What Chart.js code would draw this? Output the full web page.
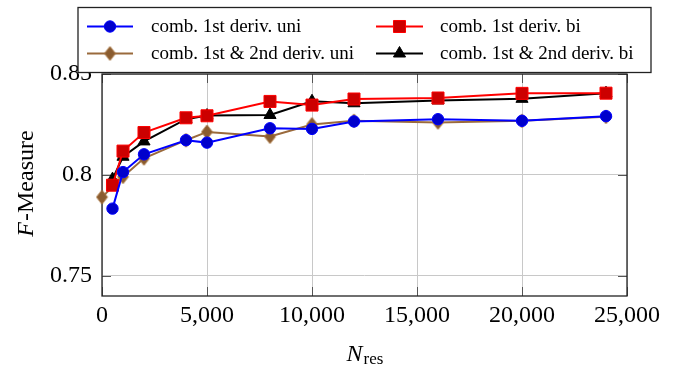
<!DOCTYPE html>
<html>
<head>
<meta charset="utf-8">
<script src="https://cdn.jsdelivr.net/npm/chart.js@4/dist/chart.umd.min.js"></script>
<style>
  html, body { margin: 0; padding: 0; background: #fff; }
  #wrap { width: 684px; height: 365px; position: relative; }
</style>
</head>
<body>
<div id="wrap"><canvas id="c" width="684" height="365"></canvas></div>
<script>
// ---- data ----
const nUni1  = [500, 1000, 2000, 4000, 5000, 8000, 10000, 12000, 16000, 20000, 24000];
const fUni1  = [0.7833, 0.8014, 0.8102, 0.8172, 0.8160, 0.8231, 0.8228, 0.8265, 0.8276, 0.8268, 0.8291];
const nBi1   = [500, 1000, 2000, 4000, 5000, 8000, 10000, 12000, 16000, 20000, 24000];
const fBi1   = [0.7949, 0.8118, 0.8210, 0.8283, 0.8293, 0.8364, 0.8346, 0.8376, 0.8381, 0.8404, 0.8405];
const nUni12 = [0, 1000, 2000, 4000, 5000, 8000, 10000, 12000, 16000, 20000, 24000];
const fUni12 = [0.7890, 0.7991, 0.8082, 0.8172, 0.8213, 0.8190, 0.8250, 0.8268, 0.8260, 0.8268, 0.8288];
const nBi12  = [500, 1000, 2000, 4000, 5000, 8000, 10000, 12000, 16000, 20000, 24000];
const fBi12  = [0.7979, 0.8090, 0.8166, 0.8276, 0.8294, 0.8297, 0.8365, 0.8355, 0.8369, 0.8377, 0.8405];

const seriesNames = [
  'comb. 1st deriv. uni',
  'comb. 1st deriv. bi',
  'comb. 1st & 2nd deriv. uni',
  'comb. 1st & 2nd deriv. bi'
];
const xTicks = [0, 5000, 10000, 15000, 20000, 25000];
const yTicks = [0.75, 0.8, 0.85];
const xTitleMain = 'N', xTitleSub = 'res';
const yTitleItalic = 'F', yTitleRest = '-Measure';

const pts = (xs, ys) => xs.map((x, i) => ({ x: x, y: ys[i] }));
const SERIF = "'Liberation Serif', 'Times New Roman', serif";

// diamond marker glyph (taller than wide, like pgfplots 'diamond*')
function makeDiamond(w, h, fill, stroke) {
  const c = document.createElement('canvas');
  c.width = w + 2; c.height = h + 2;
  const g = c.getContext('2d');
  const cx = c.width / 2, cy = c.height / 2;
  g.beginPath();
  g.moveTo(cx, cy - h / 2); g.lineTo(cx + w / 2, cy); g.lineTo(cx, cy + h / 2); g.lineTo(cx - w / 2, cy);
  g.closePath();
  g.fillStyle = fill; g.fill();
  g.strokeStyle = stroke; g.lineWidth = 1; g.stroke();
  return c;
}
const diamond = makeDiamond(11, 14, '#8a5c30', '#a8743f');

const datasets = [
  { label: seriesNames[0], data: pts(nUni1, fUni1), borderColor: '#0000ff', backgroundColor: '#0000cc',
    pointStyle: 'circle', pointRadius: 5.7, pointBorderColor: '#0000ff', pointBackgroundColor: '#0000cc' },
  { label: seriesNames[1], data: pts(nBi1, fBi1), borderColor: '#ff0000', backgroundColor: '#cc0000',
    pointStyle: 'rect', pointRadius: 8.5, pointBorderColor: '#ff0000', pointBackgroundColor: '#cc0000' },
  { label: seriesNames[2], data: pts(nUni12, fUni12), borderColor: '#9a6a3c', backgroundColor: '#8a5c30',
    pointStyle: diamond, pointRadius: 7, pointBorderColor: '#a8743f', pointBackgroundColor: '#8a5c30' },
  { label: seriesNames[3], data: pts(nBi12, fBi12), borderColor: '#000000', backgroundColor: '#000000',
    pointStyle: 'triangle', pointRadius: 7, pointBorderColor: '#000000', pointBackgroundColor: '#000000' }
].map(d => Object.assign(d, { borderWidth: 2, pointBorderWidth: 1, tension: 0, fill: false, clip: false,
                              pointHoverRadius: d.pointRadius }));

const fmtThousands = v => String(Math.round(v)).replace(/\B(?=(\d{3})+(?!\d))/g, ',');

const decor = {
  id: 'decor',
  beforeDatasetsDraw(chart) {
    const { ctx, chartArea: a, scales } = chart;
    ctx.save();
    ctx.strokeStyle = '#555';
    ctx.lineWidth = 1;
    const tl = 9;
    ctx.beginPath();
    xTicks.forEach(v => {
      const px = Math.round(scales.x.getPixelForValue(v)) + 0.5;
      ctx.moveTo(px, a.bottom); ctx.lineTo(px, a.bottom - tl);
      ctx.moveTo(px, a.top); ctx.lineTo(px, a.top + tl);
    });
    yTicks.forEach(v => {
      const py = Math.round(scales.y.getPixelForValue(v)) + 0.5;
      ctx.moveTo(a.left, py); ctx.lineTo(a.left + tl, py);
      ctx.moveTo(a.right, py); ctx.lineTo(a.right - tl, py);
    });
    ctx.stroke();
    ctx.strokeStyle = '#222';
    ctx.lineWidth = 1.3;
    ctx.strokeRect(a.left, a.top, a.right - a.left, a.bottom - a.top);
    ctx.restore();
  },
  afterDraw(chart) {
    const { ctx, chartArea: a } = chart;
    ctx.save();
    ctx.fillStyle = '#000';
    ctx.textBaseline = 'alphabetic';
    // y title
    ctx.save();
    ctx.translate(33, 184);
    ctx.rotate(-Math.PI / 2);
    ctx.font = 'italic 24px ' + SERIF;
    const wF = ctx.measureText(yTitleItalic).width;
    ctx.font = '24px ' + SERIF;
    const wR = ctx.measureText(yTitleRest).width;
    const sx = -(wF + wR) / 2;
    ctx.textAlign = 'left';
    ctx.font = 'italic 24px ' + SERIF;
    ctx.fillText(yTitleItalic, sx, 0);
    ctx.font = '24px ' + SERIF;
    ctx.fillText(yTitleRest, sx + wF + 1, 0);
    ctx.restore();
    // x title
    ctx.font = 'italic 24px ' + SERIF;
    const wN = ctx.measureText(xTitleMain).width;
    ctx.font = '17px ' + SERIF;
    const wS = ctx.measureText(xTitleSub).width;
    const cx = (a.left + a.right) / 2;
    const tx = cx - (wN + wS) / 2;
    ctx.textAlign = 'left';
    ctx.font = 'italic 24px ' + SERIF;
    ctx.fillText(xTitleMain, tx, 361);
    ctx.font = '17px ' + SERIF;
    ctx.fillText(xTitleSub, tx + wN + 1, 364);

    // legend
    const lx0 = 78, ly0 = 7.5, lx1 = 651, ly1 = 72.5;
    ctx.fillStyle = '#fff';
    ctx.fillRect(lx0, ly0, lx1 - lx0, ly1 - ly0);
    ctx.strokeStyle = '#222';
    ctx.lineWidth = 1.3;
    ctx.strokeRect(lx0, ly0, lx1 - lx0, ly1 - ly0);
    const cols = [{ l0: 87, l1: 133, t: 151 }, { l0: 376, l1: 423, t: 440 }];
    const rows = [26.5, 53.5];
    const order = [[0, 0, 0], [1, 1, 0], [2, 0, 1], [3, 1, 1]];
    order.forEach(([di, c, r]) => {
      const ds = chart.data.datasets[di];
      const col = cols[c], y = rows[r];
      ctx.strokeStyle = ds.borderColor;
      ctx.lineWidth = 2;
      ctx.beginPath();
      ctx.moveTo(col.l0, y); ctx.lineTo(col.l1, y);
      ctx.stroke();
      ctx.fillStyle = ds.pointBackgroundColor;
      ctx.strokeStyle = ds.pointBorderColor;
      ctx.lineWidth = 1;
      Chart.helpers.drawPoint(ctx, { pointStyle: ds.pointStyle, radius: ds.pointRadius, rotation: 0, borderWidth: 1 },
                              (col.l0 + col.l1) / 2, y);
      ctx.fillStyle = '#000';
      ctx.font = '19px ' + SERIF;
      ctx.textAlign = 'left';
      ctx.textBaseline = 'middle';
      ctx.fillText(ds.label, col.t, y + 1);
    });
    ctx.restore();
  }
};

new Chart(document.getElementById('c'), {
  type: 'line',
  data: { datasets: datasets },
  options: {
    responsive: false,
    animation: false,
    devicePixelRatio: 1,
    layout: { padding: { top: 74, right: 57, bottom: 0, left: 0 } },
    plugins: { legend: { display: false }, tooltip: { enabled: false }, title: { display: false } },
    scales: {
      x: {
        type: 'linear', min: 0, max: 25000,
        afterBuildTicks: s => { s.ticks = xTicks.map(v => ({ value: v })); },
        afterFit: s => { s.height = 69; },
        border: { display: false },
        grid: { color: '#c8c8c8', lineWidth: 1, drawTicks: false },
        ticks: { padding: 5, maxRotation: 0, autoSkip: false, color: '#000',
                 font: { family: SERIF, size: 24 }, callback: v => fmtThousands(v) }
      },
      y: {
        type: 'linear', min: 0.74, max: 0.85,
        afterBuildTicks: s => { s.ticks = yTicks.map(v => ({ value: v })); },
        afterFit: s => { s.width = 102; },
        border: { display: false },
        grid: { color: '#c8c8c8', lineWidth: 1, drawTicks: false },
        ticks: { padding: 10, autoSkip: false, color: '#000',
                 font: { family: SERIF, size: 24 }, callback: v => String(+Number(v).toFixed(2)) }
      }
    }
  },
  plugins: [decor]
});
</script>
</body>
</html>
